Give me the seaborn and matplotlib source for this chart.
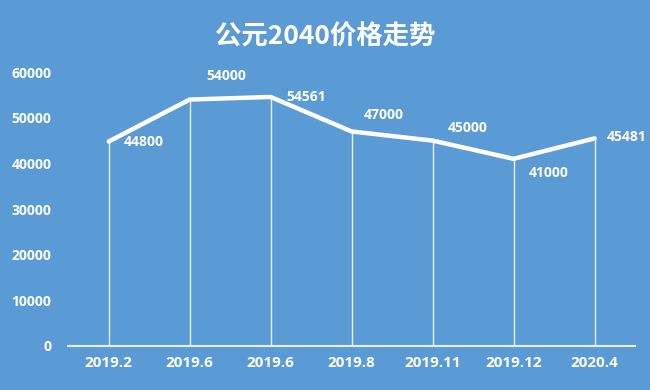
import matplotlib
matplotlib.use("Agg")
import matplotlib.pyplot as plt
import seaborn as sns
import pandas as pd

categories = ["2019.2", "2019.6", "2019.6 ", "2019.8", "2019.11", "2019.12", "2020.4"]
tick_labels = ["2019.2", "2019.6", "2019.6", "2019.8", "2019.11", "2019.12", "2020.4"]
prices = [44800, 54000, 54561, 47000, 45000, 41000, 45481]
title = "公元2040价格走势"

BG = "#5B9BD5"
sns.set_style("white", {"axes.facecolor": BG, "figure.facecolor": BG})
plt.rcParams["font.family"] = ["Noto Sans CJK SC", "DejaVu Sans"]

df = pd.DataFrame({"x": list(range(len(categories))), "price": prices})

fig = plt.figure(figsize=(6.5, 3.9), dpi=100)
ax = fig.add_axes([0.105, 0.113, 0.872, 0.702])
ax.set_facecolor(BG)

ax.vlines(df["x"], 0, df["price"], colors="white", linewidth=1.0, alpha=0.85, zorder=2)
sns.lineplot(data=df, x="x", y="price", ax=ax, color="white", linewidth=3.2,
             solid_capstyle="round", solid_joinstyle="round", zorder=3)

# label offsets in points (dx, dy)
offsets = [(11, 0), (12, 17), (11, 0), (9, 12), (11, 9), (11, -10), (9, 1)]
for i, (v, (dx, dy)) in enumerate(zip(prices, offsets)):
    ax.annotate(str(v), (i, v), xytext=(dx, dy), textcoords="offset points",
                ha="left", va="center", color="white", fontsize=10, fontweight="bold",
                family=["Open Sans", "DejaVu Sans"])

ax.set_xlim(-0.5, len(categories) - 0.5)
ax.set_ylim(0, 60000)
ax.set_yticks(range(0, 60001, 10000))
ax.set_yticklabels([str(t) for t in range(0, 60001, 10000)], color="white", fontsize=10,
                   fontweight="bold", family=["Open Sans", "DejaVu Sans"])
ax.set_xticks(range(len(categories)))
ax.set_xticklabels(tick_labels, color="white", fontsize=11, fontweight="bold",
                   family=["Open Sans", "DejaVu Sans"])
ax.tick_params(axis="y", length=0, pad=12)
ax.tick_params(axis="x", length=0, pad=7)
ax.set_xlabel("")
ax.set_ylabel("")
for s in ["top", "right", "left"]:
    ax.spines[s].set_visible(False)
ax.spines["bottom"].set_color("white")
ax.spines["bottom"].set_alpha(0.85)
ax.spines["bottom"].set_linewidth(1.5)

fig.text(0.5, 0.905, title, ha="center", va="center", color="white", fontsize=19,
         fontweight="bold", family=["Noto Sans CJK SC", "DejaVu Sans"])

fig.savefig("out.png", dpi=100, facecolor=BG)
